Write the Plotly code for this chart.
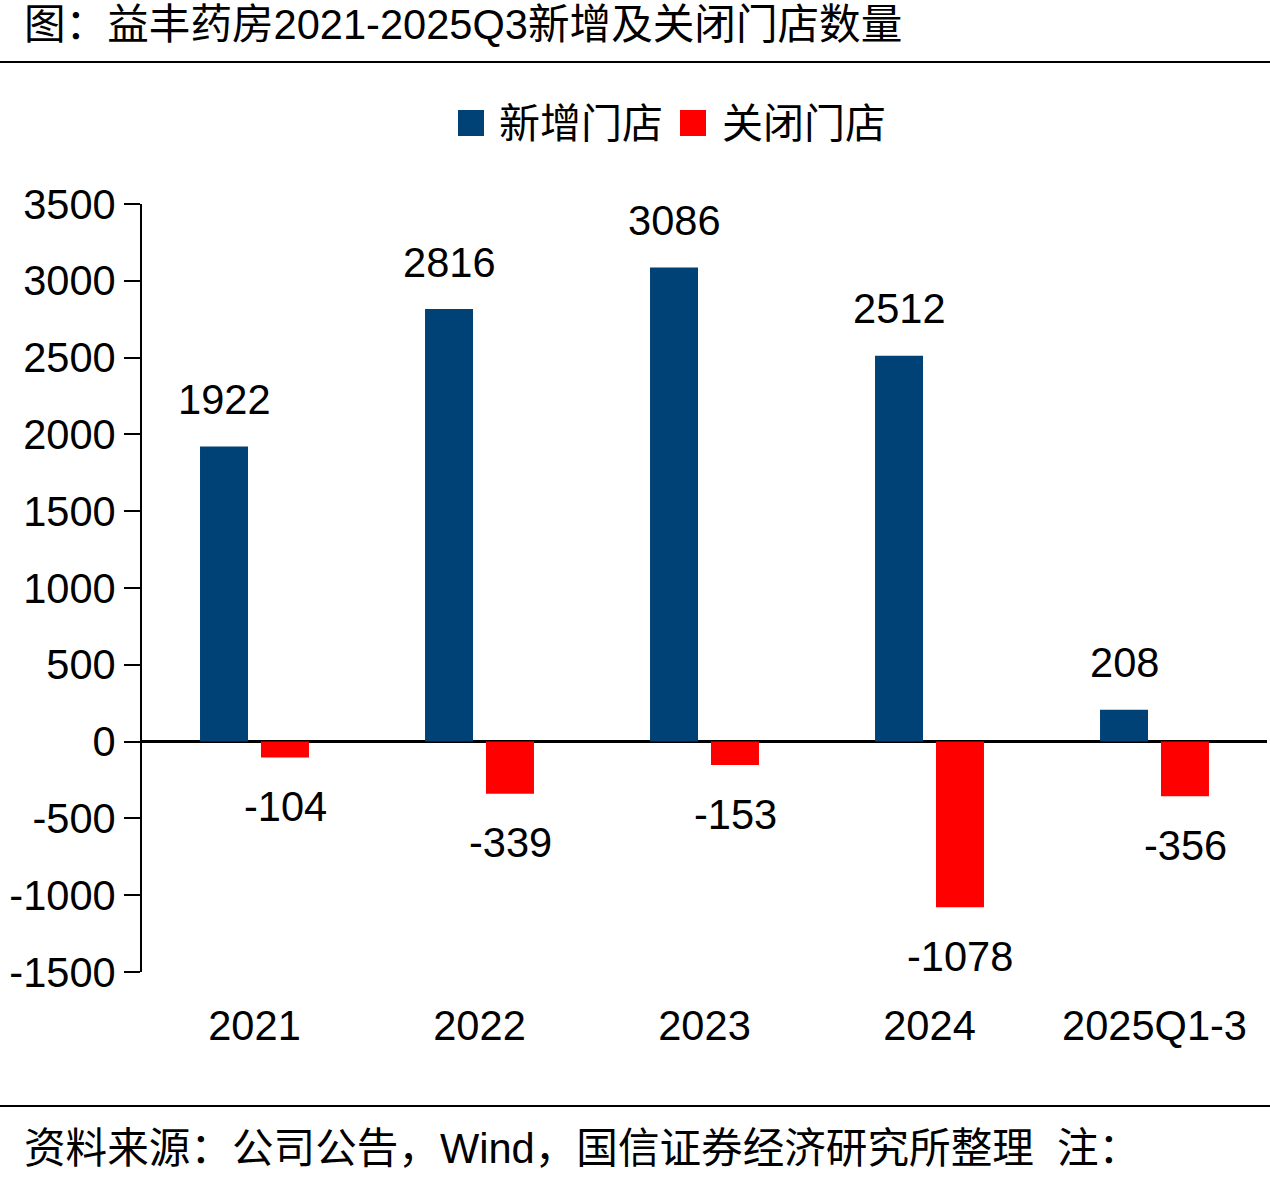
import plotly.graph_objects as go

categories = ["2021", "2022", "2023", "2024", "2025Q1-3"]
new_stores = [1922, 2816, 3086, 2512, 208]
closed_stores = [-104, -339, -153, -1078, -356]
series_names = ["新增门店", "关闭门店"]
y_ticks = list(range(-1500, 3501, 500))

title_text = "图：益丰药房2021-2025Q3新增及关闭门店数量"
source_text = "资料来源：公司公告，Wind，国信证券经济研究所整理  注："

BLUE = "#004276"
RED = "#FF0000"
FONT = "Liberation Sans, Arial, Noto Sans CJK SC, sans-serif"
FS = 41.6

W, H = 1270, 1182
L, R, T, B = 142, 3, 204, 210
PW, PH = W - L - R, H - T - B


def px(x):
    return (x - L) / PW


def py(y):
    return (H - B - y) / PH


fig = go.Figure()
fig.add_trace(go.Bar(x=categories, y=new_stores, name=series_names[0],
                     marker=dict(color=BLUE, line=dict(width=0)), showlegend=False))
fig.add_trace(go.Bar(x=categories, y=closed_stores, name=series_names[1],
                     marker=dict(color=RED, line=dict(width=0)), showlegend=False))

annotations = []
for i, v in enumerate(new_stores):
    annotations.append(dict(x=i, y=v, xref="x", yref="y", text=str(v), showarrow=False,
                            xshift=-30.5, yshift=47, yanchor="middle",
                            font=dict(size=FS, color="black", family=FONT)))
for i, v in enumerate(closed_stores):
    annotations.append(dict(x=i, y=v, xref="x", yref="y", text=str(v), showarrow=False,
                            xshift=30.5, yshift=-49, yanchor="middle",
                            font=dict(size=FS, color="black", family=FONT)))

# title and source
annotations.append(dict(x=px(22), y=py(24), xref="paper", yref="paper", text=title_text,
                        showarrow=False, xanchor="left", yanchor="middle",
                        font=dict(size=FS, color="black", family=FONT)))
annotations.append(dict(x=px(22), y=py(1148), xref="paper", yref="paper", text=source_text,
                        showarrow=False, xanchor="left", yanchor="middle",
                        font=dict(size=FS, color="black", family=FONT)))

# custom legend
legend_items = [(series_names[0], BLUE, 458, 497), (series_names[1], RED, 680, 720)]
shapes = []
for name, color, sx, tx in legend_items:
    shapes.append(dict(type="rect", xref="paper", yref="paper",
                       x0=px(sx), x1=px(sx + 26), y0=py(136), y1=py(110),
                       fillcolor=color, line=dict(width=0)))
    annotations.append(dict(x=px(tx), y=py(124), xref="paper", yref="paper", text=name,
                            showarrow=False, xanchor="left", yanchor="middle",
                            font=dict(size=41, color="black", family=FONT)))

# rules
for yy in (62, 1106):
    shapes.append(dict(type="line", xref="paper", yref="paper",
                       x0=px(0), x1=px(W), y0=py(yy), y1=py(yy),
                       line=dict(color="black", width=2)))

fig.update_layout(
    width=W, height=H,
    margin=dict(l=L, r=R, t=T, b=B, autoexpand=False),
    paper_bgcolor="white", plot_bgcolor="white",
    barmode="group", bargap=0.458, bargroupgap=0.213,
    font=dict(family=FONT, size=FS, color="black"),
    annotations=annotations, shapes=shapes,
    showlegend=False,
)
fig.update_xaxes(type="category", range=[-0.5, len(categories) - 0.5],
                 showgrid=False, showline=False, zeroline=False,
                 ticks="outside", ticklen=17, tickcolor="rgba(0,0,0,0)",
                 tickfont=dict(size=FS, color="black", family=FONT))
fig.update_yaxes(range=[-1500, 3500], tickvals=y_ticks, ticktext=[str(t) for t in y_ticks],
                 showgrid=False, showline=True, linecolor="black", linewidth=2,
                 ticks="outside", ticklen=16, tickwidth=2, tickcolor="black",
                 zeroline=True, zerolinecolor="black", zerolinewidth=2.5,
                 tickfont=dict(size=FS, color="black", family=FONT))

fig.write_html("out.html")
